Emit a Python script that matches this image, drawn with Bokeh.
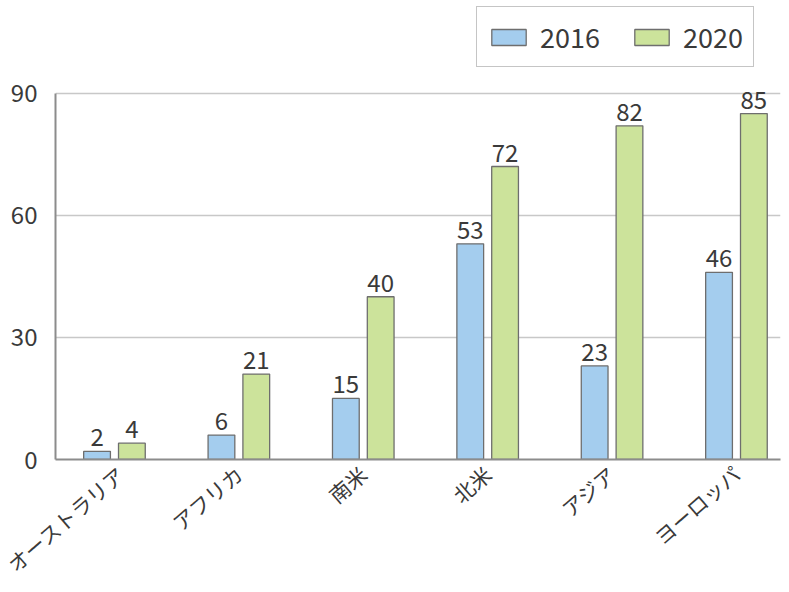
import math
from bokeh.plotting import figure
from bokeh.models import ColumnDataSource, Range1d, FixedTicker, Legend, LegendItem, LabelSet
from bokeh.core.properties import value
from bokeh.embed import file_html
from bokeh.resources import INLINE

regions = ["オーストラリア", "アフリカ", "南米", "北米", "アジア", "ヨーロッパ"]
v2016 = [2, 6, 15, 53, 23, 46]
v2020 = [4, 21, 40, 72, 82, 85]
years = ["2016", "2020"]

FONT = "Noto Sans CJK JP"
TXT = "#3a3a3a"
BLUE = "#a4cdee"
GREEN = "#cce39b"
EDGE = "#6e6e6e"

idx = list(range(len(regions)))
off = 0.14
w = 0.215
s16 = ColumnDataSource(dict(x=[i - off for i in idx], top=v2016, lab=[str(v) for v in v2016]))
s20 = ColumnDataSource(dict(x=[i + off for i in idx], top=v2020, lab=[str(v) for v in v2020]))

p = figure(width=781, height=592, output_backend="svg", toolbar_location=None,
           x_range=Range1d(-0.474, 5.354), y_range=Range1d(0, 112.8),
           min_border_left=55, min_border_right=1, min_border_top=0, min_border_bottom=10)
p.outline_line_color = None
p.background_fill_color = "white"

r1 = p.vbar(x="x", top="top", width=w, source=s16, fill_color=BLUE, line_color=EDGE, line_width=1.3)
r2 = p.vbar(x="x", top="top", width=w, source=s20, fill_color=GREEN, line_color=EDGE, line_width=1.3)

for src in (s16, s20):
    p.add_layout(LabelSet(x="x", y="top", text="lab", source=src, text_align="center",
                          text_baseline="bottom", y_offset=5, text_font=value(FONT),
                          text_font_size="24px", text_color=TXT))

p.xaxis.ticker = FixedTicker(ticks=idx)
p.xaxis.major_label_overrides = {i: r for i, r in enumerate(regions)}
p.xaxis.major_label_orientation = 0.715
p.xaxis.major_tick_line_color = None
p.xaxis.minor_tick_line_color = None
p.xaxis.axis_line_color = "#8c8c8c"
p.xaxis.axis_line_width = 2
p.xaxis.major_label_text_font = FONT
p.xaxis.major_label_text_font_size = "21px"
p.xaxis.major_label_text_color = TXT
p.xaxis.major_label_standoff = 5
p.xgrid.grid_line_color = None

p.yaxis.ticker = FixedTicker(ticks=[0, 30, 60, 90])
p.yaxis.bounds = (0, 90)
p.yaxis.major_tick_line_color = None
p.yaxis.minor_tick_line_color = None
p.yaxis.axis_line_color = "#8c8c8c"
p.yaxis.axis_line_width = 2
p.yaxis.major_label_text_font = FONT
p.yaxis.major_label_text_font_size = "24px"
p.yaxis.major_label_text_color = TXT
p.yaxis.major_label_standoff = 12
p.ygrid.grid_line_color = "#c8c8c8"
p.ygrid.grid_line_width = 1.5

legend = Legend(items=[LegendItem(label=years[0], renderers=[r1]),
                       LegendItem(label=years[1], renderers=[r2])],
                orientation="horizontal", location=(421, 392))
legend.label_text_font = FONT
legend.label_text_font_size = "27px"
legend.label_text_color = TXT
legend.border_line_color = "#8c8c8c"
legend.border_line_width = 1.5
legend.glyph_width = 43
legend.glyph_height = 20
legend.spacing = 30
legend.padding = 10
legend.margin = 0
legend.label_standoff = 10
p.add_layout(legend, "center")

open("out.html", "w").write(file_html(p, INLINE))
